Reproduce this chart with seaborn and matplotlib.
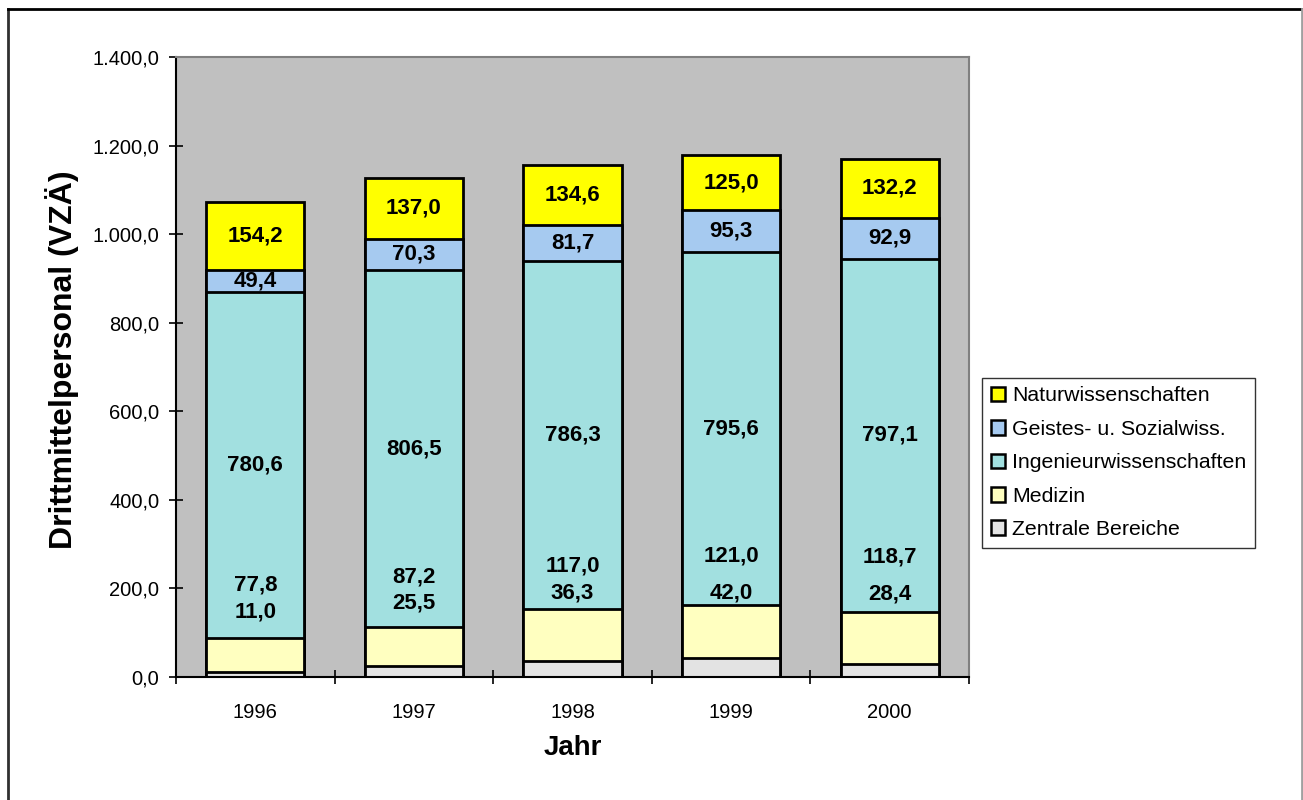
import matplotlib
matplotlib.use("Agg")
import matplotlib.pyplot as plt
import seaborn as sns
import numpy as np
import pandas as pd
from matplotlib.patches import Patch
from matplotlib.lines import Line2D
from matplotlib.ticker import FuncFormatter, FixedLocator

# ---- data ----
years = ["1996", "1997", "1998", "1999", "2000"]
zentrale = [11.0, 25.5, 36.3, 42.0, 28.4]
medizin = [77.8, 87.2, 117.0, 121.0, 118.7]
ingenieur = [780.6, 806.5, 786.3, 795.6, 797.1]
geistes = [49.4, 70.3, 81.7, 95.3, 92.9]
natur = [154.2, 137.0, 134.6, 125.0, 132.2]

series_names = ["Zentrale Bereiche", "Medizin", "Ingenieurwissenschaften",
                "Geistes- u. Sozialwiss.", "Naturwissenschaften"]
series_vals = [zentrale, medizin, ingenieur, geistes, natur]
colors = ["#E3E3E3", "#FFFFC0", "#A2E0E0", "#A6CAF0", "#FFFF00"]

# label heights (y value) of the manually placed labels for the two small series
zentrale_label_y = [147, 167, 190, 190, 187]
medizin_label_y = [208, 226, 251, 273, 271]

plt.rcParams['font.family'] = ['Liberation Sans', 'DejaVu Sans']

W, H = 1303, 800
fig = plt.figure(figsize=(W / 100, H / 100), dpi=100)
ax = fig.add_axes([176 / W, 1 - 677 / H, (969 - 176) / W, (677 - 57) / H])
ax.set_facecolor("#C0C0C0")

df = pd.DataFrame({"Jahr": years})
cum = np.cumsum(np.array(series_vals), axis=0)
# draw from top layer down so lower layers overlay
for k in range(len(series_names) - 1, -1, -1):
    df["val"] = cum[k]
    sns.barplot(data=df, x="Jahr", y="val", color=colors[k], saturation=1,
                width=0.62, edgecolor="black", linewidth=2.0, ax=ax, zorder=2)

# labels
lbl_kw = dict(ha="center", va="center", fontsize=16, fontweight="bold", color="black", zorder=5)
fmt = lambda v: f"{v:.1f}".replace(".", ",")
for i in range(len(years)):
    for k in (2, 3, 4):
        bottom = cum[k - 1][i]
        top = cum[k][i]
        ax.text(i, (bottom + top) / 2, fmt(series_vals[k][i]), **lbl_kw)
    ax.text(i, medizin_label_y[i], fmt(medizin[i]), **lbl_kw)
    ax.text(i, zentrale_label_y[i], fmt(zentrale[i]), **lbl_kw)

ax.set_xlim(-0.5, 4.5)
ax.set_ylim(0, 1400)
ax.set_yticks(np.arange(0, 1401, 200))
ax.yaxis.set_major_formatter(FuncFormatter(
    lambda v, p: f"{v:,.1f}".replace(",", "X").replace(".", ",").replace("X", ".")))
ax.tick_params(axis="y", direction="inout", length=10, width=1.2, pad=7,
               labelsize=14.5, colors="black")
ax.xaxis.set_minor_locator(FixedLocator(np.arange(-0.5, 4.6, 1)))
ax.tick_params(axis="x", which="minor", direction="inout", length=10, width=1.2)
ax.tick_params(axis="x", which="major", length=0, pad=19, labelsize=14.5, colors="black")
ax.set_xlabel("")
ax.set_ylabel("")
ax.grid(False)

for side in ("left", "bottom"):
    ax.spines[side].set_color("black")
    ax.spines[side].set_linewidth(1.5)
for side in ("top", "right"):
    ax.spines[side].set_color("#808080")
    ax.spines[side].set_linewidth(1.5)

fig.text(573 / W, 1 - 748 / H, "Jahr", ha="center", va="center",
         fontsize=20, fontweight="bold")
fig.text(62 / W, 1 - 360 / H, "Drittmittelpersonal (VZÄ)", ha="center", va="center",
         rotation=90, fontsize=23, fontweight="bold")

# legend
order = [4, 3, 2, 1, 0]
handles = [Patch(facecolor=colors[k], edgecolor="black", linewidth=1.8) for k in order]
labels = [series_names[k] for k in order]
leg = fig.legend(handles, labels, loc="upper left",
                 bbox_to_anchor=(982 / W, 1 - 378 / H), frameon=True, fancybox=False,
                 edgecolor="black", fontsize=15.3, handlelength=0.7, handleheight=0.7,
                 handletextpad=0.3, borderpad=0.4, labelspacing=0.68, borderaxespad=0)
leg.get_frame().set_linewidth(1.0)

# outer chart frame
fig.add_artist(Line2D([7.5 / W, 7.5 / W], [0, 1 - 9 / H], transform=fig.transFigure,
                      color="#303030", linewidth=2))
fig.add_artist(Line2D([7.5 / W, 1301.5 / W], [1 - 9 / H, 1 - 9 / H], transform=fig.transFigure,
                      color="black", linewidth=2))
fig.add_artist(Line2D([1301.5 / W, 1301.5 / W], [0, 1 - 9 / H], transform=fig.transFigure,
                      color="#A0A0A0", linewidth=2))

fig.savefig("out.png", dpi=100)
